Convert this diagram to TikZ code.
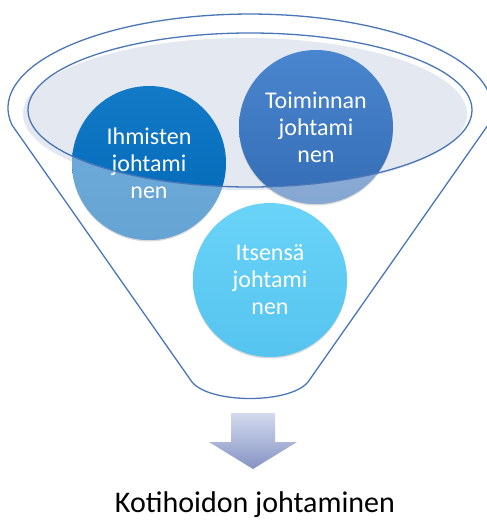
\documentclass[tikz,border=0pt]{standalone}
\usepackage{fontspec}
\setmainfont{Carlito}
\usetikzlibrary{shadows}

\definecolor{suppilo}{HTML}{4A76B8}
\definecolor{aukko}{HTML}{E4E8F1}
\definecolor{ihm1}{HTML}{137AC8}
\definecolor{ihm2}{HTML}{0067B6}
\definecolor{toi1}{HTML}{4A86CF}
\definecolor{toi2}{HTML}{346DB4}
\definecolor{its1}{HTML}{6AD3F8}
\definecolor{its2}{HTML}{55C4EF}
\definecolor{nuoli1}{HTML}{D3DAEE}
\definecolor{nuoli2}{HTML}{8593C3}

\begin{document}
\begin{tikzpicture}[x=1pt,y=-1pt,
    pallo/.style={circle,minimum size=154pt,inner sep=0pt,text=white,align=center,
        font=\fontsize{24}{27}\selectfont,
        drop shadow={opacity=0.3,shadow xshift=0pt,shadow yshift=-1.5pt}}]
        \useasboundingbox (0,0) rectangle (487,522);
        % funnel and its opening
        \draw[suppilo,line width=1.3pt,line join=round] (12,125)
            arc[start angle=169.6,end angle=370.4,x radius=242,y radius=94]
            -- (308,382) .. controls (290,404) and (210,404) .. (192,382) -- cycle;
        \fill[aukko] (245,114) ellipse[x radius=222,y radius=76];
        \node[pallo,top color=ihm1,bottom color=ihm2] (ihmiset) at (149,163) {Ihmisten\\johtami\\nen};
        \node[pallo,top color=toi1,bottom color=toi2] (toiminta) at (316,127) {Toiminnan\\johtami\\nen};
        \node[pallo,top color=its1,bottom color=its2] (itse) at (270,280) {Itsensä\\johtami\\nen};
        % lighter below the rim
        \begin{scope}
            \clip (ihmiset.center) circle[radius=77pt] (toiminta.center) circle[radius=77pt];
            \fill[white,opacity=0.4,even odd rule] (0,0) rectangle (487,522)
                (250,110) ellipse[x radius=222,y radius=77];
        \end{scope}
        \draw[suppilo,line width=1.3pt] (250,110) ellipse[x radius=222,y radius=77];
        % arrow down to the result
        \shade[top color=nuoli1,bottom color=nuoli2] (231,413) -- (275,413) -- (275,442) -- (297,442)
            -- (253,469) -- (209,442) -- (231,442) -- cycle;
        \node[anchor=base,font=\fontsize{30}{36}\selectfont] (tulos) at (255,512) {Kotihoidon johtaminen};
    \end{tikzpicture}
\end{document}
